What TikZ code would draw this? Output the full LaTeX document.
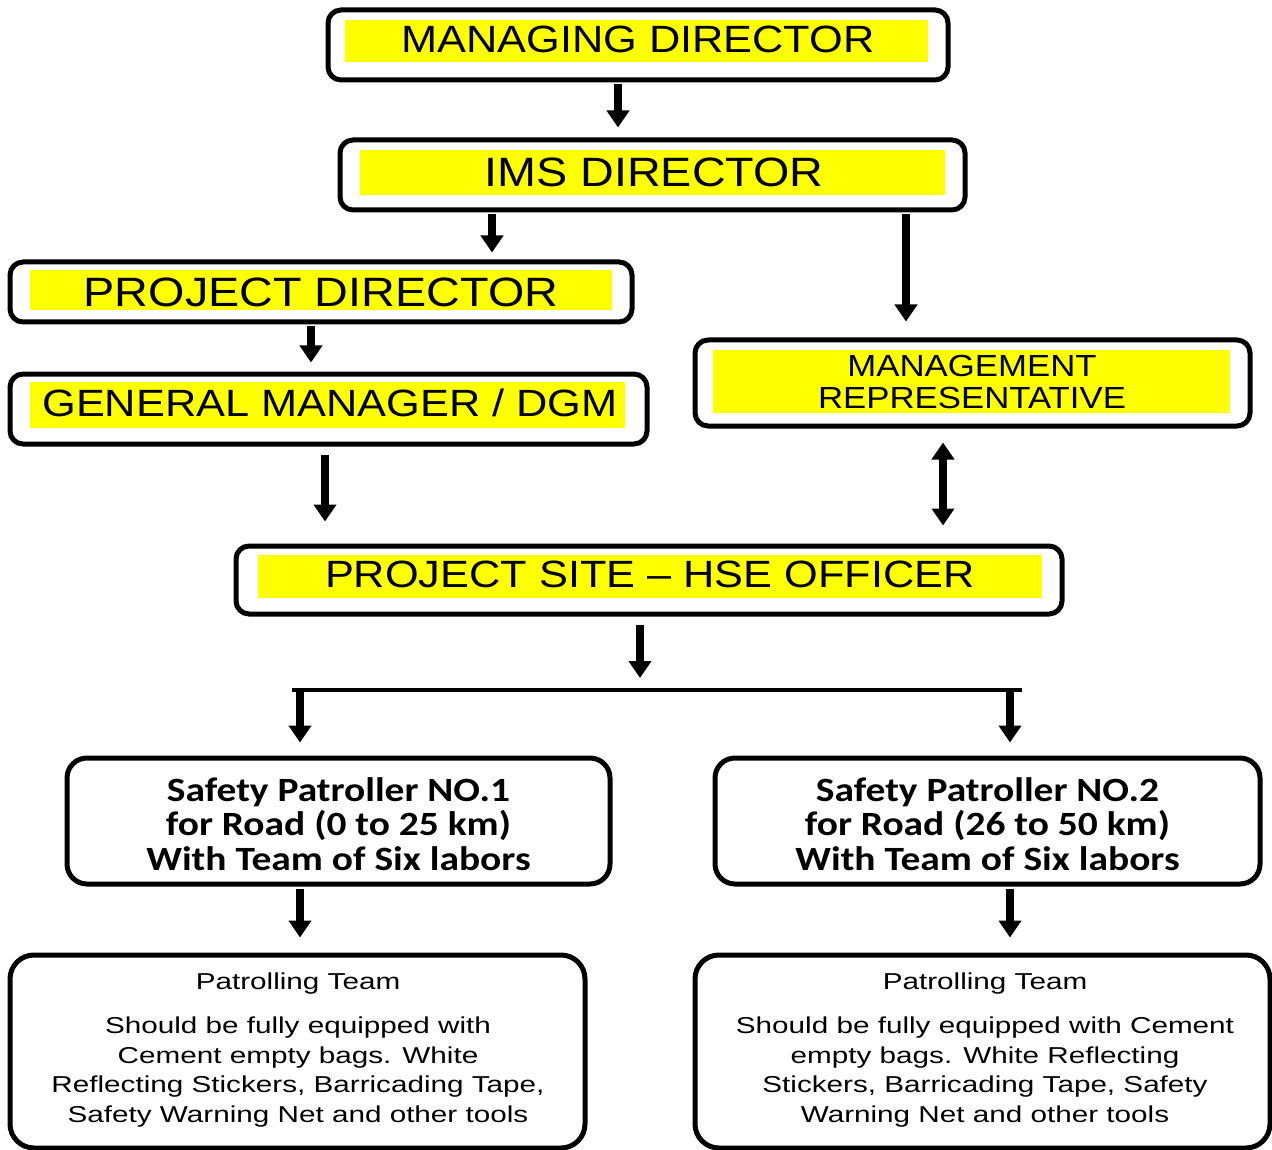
\documentclass[tikz,border=0pt]{standalone}
\usepackage{fontspec}
\setmainfont{Liberation Sans}
\newfontfamily\widefont[FakeStretch=1.14,Ligatures=TeX]{Liberation Sans}
\newfontfamily\ptfont[FakeStretch=1.29,Ligatures=TeX]{Liberation Sans}
\newfontfamily\spfont[FakeStretch=1.16,Ligatures=TeX]{Carlito}
\usetikzlibrary{arrows.meta}
\definecolor{boxyellow}{RGB}{255,255,0}
\tikzset{
  outerbox/.style={draw=black, line width=5pt, rounded corners=13pt, inner sep=0pt, fill=white},
  bigbox/.style={draw=black, line width=5pt, rounded corners=24pt, inner sep=0pt, fill=white},
  titletext/.style={inner sep=0pt, font=\widefont\fontsize{38}{42}\selectfont},
  bigtitletext/.style={inner sep=0pt, font=\widefont\fontsize{41}{45}\selectfont},
  mrtext/.style={inner sep=0pt, align=center, font=\widefont\fontsize{30.5}{32}\selectfont},
  sptext/.style={inner sep=0pt, align=center, font=\spfont\bfseries\fontsize{34}{34.5}\selectfont},
  pttext/.style={inner sep=0pt, align=center, font=\ptfont\fontsize{23}{29.5}\selectfont},
  arr/.style={line width=8pt, -{Triangle[width=22pt,length=17pt]}},
  darr/.style={line width=8pt, {Triangle[width=22pt,length=17pt]}-{Triangle[width=22pt,length=17pt]}},
  barline/.style={line width=4pt}
}
\begin{document}
\begin{tikzpicture}[x=1pt,y=-1pt]
\useasboundingbox (0,0) rectangle (1272,1150);
\fill[white] (0,0) rectangle (1272,1150);

% Managing director
\node[outerbox, minimum width=620pt, minimum height=70pt] (md) at (638,45) {};
\fill[boxyellow] (345,20) rectangle (928,62);
\node[titletext] (mdt) at (638,39) {MANAGING DIRECTOR};

% IMS director
\node[outerbox, minimum width=625pt, minimum height=70pt] (ims) at (652.5,175) {};
\fill[boxyellow] (360,150) rectangle (945,195);
\node[bigtitletext] (imst) at (654,172) {IMS DIRECTOR};

% Project director
\node[outerbox, minimum width=622pt, minimum height=60pt] (pd) at (321,292) {};
\fill[boxyellow] (30,270) rectangle (612,310);
\node[bigtitletext] (pdt) at (321,292) {PROJECT DIRECTOR};

% General manager
\node[outerbox, minimum width=637pt, minimum height=70pt] (gm) at (328.5,409) {};
\fill[boxyellow] (30,382) rectangle (625,428);
\node[titletext] (gmt) at (330,403) {GENERAL MANAGER / DGM};

% Management representative
\node[outerbox, minimum width=555pt, minimum height=86pt] (mr) at (972.5,383) {};
\fill[boxyellow] (713,350) rectangle (1230,413);
\node[mrtext] (mrt) at (972,382) {MANAGEMENT\\REPRESENTATIVE};

% HSE officer
\node[outerbox, minimum width=826pt, minimum height=68pt] (hse) at (649,580) {};
\fill[boxyellow] (258,555) rectangle (1042,598);
\node[titletext] (hset) at (650,574) {PROJECT SITE – HSE OFFICER};

% Safety patrollers
\node[outerbox, rounded corners=20pt, minimum width=543pt, minimum height=126pt] (sp1) at (338.5,821) {};
\node[sptext] (sp1t) at (338.5,824) {Safety Patroller NO.1\\for Road (0 to 25 km)\\With Team of Six labors};
\node[outerbox, rounded corners=20pt, minimum width=545pt, minimum height=126pt] (sp2) at (987.5,821) {};
\node[sptext] (sp2t) at (987.5,824) {Safety Patroller NO.2\\for Road (26 to 50 km)\\With Team of Six labors};

% Patrolling teams
\node[bigbox, minimum width=575pt, minimum height=193pt] (pt1) at (297.5,1051.5) {};
\node[pttext] (pt1t) at (298,1050) {Patrolling Team\\[15pt]Should be fully equipped with\\Cement empty bags. White\\Reflecting Stickers, Barricading Tape,\\Safety Warning Net and other tools};
\node[bigbox, minimum width=575pt, minimum height=193pt] (pt2) at (982.5,1051.5) {};
\node[pttext] (pt2t) at (985,1050) {Patrolling Team\\[15pt]Should be fully equipped with Cement\\empty bags. White Reflecting\\Stickers, Barricading Tape, Safety\\Warning Net and other tools};

% Connectors
\draw[arr, shorten >=10pt, shorten <=2pt] ([xshift=-20pt]md.south) -- ([xshift=-20pt]md.south |- ims.north);
\draw[arr, shorten >=7pt, shorten <=2pt] ([xshift=-160.5pt]ims.south) -- ([xshift=-160.5pt]ims.south |- pd.north);
\draw[arr, shorten >=16pt, shorten <=2pt] ([xshift=253.5pt]ims.south) -- ([xshift=253.5pt]ims.south |- mr.north);
\draw[arr, shorten >=9pt, shorten <=2pt] ([xshift=-10pt]pd.south) -- ([xshift=-10pt]pd.south |- gm.north);
\draw[arr, shorten >=22pt, shorten <=8pt] ([xshift=-3.5pt]gm.south) -- ([xshift=-3.5pt]gm.south |- hse.north);
\draw[darr, shorten >=18pt, shorten <=14pt] ([xshift=-29.5pt]mr.south) -- ([xshift=-29.5pt]mr.south |- hse.north);

\coordinate (barL) at (292,690);
\coordinate (barR) at (1022,690);
\coordinate (barM) at (640,690);
\coordinate (drop1) at (300,690);
\coordinate (drop2) at (1010,690);
\draw[barline] (barL) -- (barR);
\draw[arr, shorten >=12pt, shorten <=8pt] (barM |- hse.south) -- (barM);
\draw[arr, shorten >=13pt, shorten <=-2pt] (drop1) -- (drop1 |- sp1.north);
\draw[arr, shorten >=13pt, shorten <=-2pt] (drop2) -- (drop2 |- sp2.north);
\draw[arr, shorten >=15pt, shorten <=2pt] (drop1 |- sp1.south) -- (drop1 |- pt1.north);
\draw[arr, shorten >=15pt, shorten <=2pt] (drop2 |- sp2.south) -- (drop2 |- pt2.north);
\end{tikzpicture}
\end{document}
